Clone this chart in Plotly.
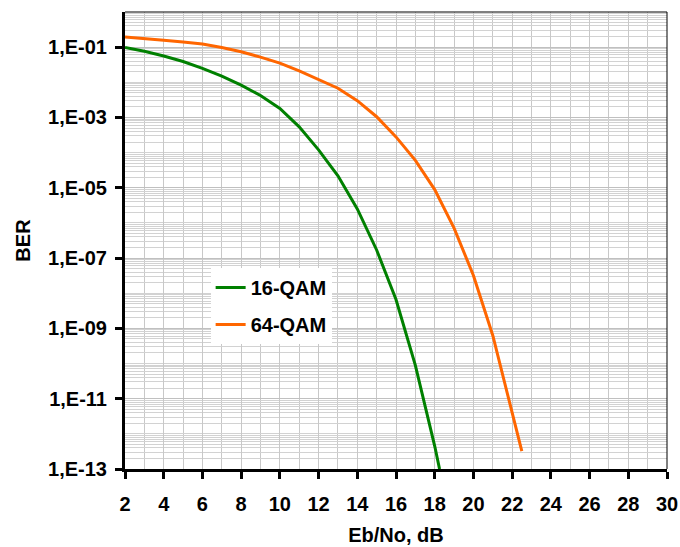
import plotly.graph_objects as go

# Data
ebno_16 = [2, 3, 4, 5, 6, 7, 8, 9, 10, 11, 12, 13, 14, 15, 16, 17, 18, 18.25]
ber_16 = [9.8e-2, 7.6e-2, 5.6e-2, 3.9e-2, 2.5e-2, 1.5e-2, 8.3e-3, 4.2e-3, 1.8e-3,
          5.4e-4, 1.2e-4, 2.2e-5, 2.5e-6, 1.7e-7, 6.6e-9, 8.9e-11, 4.5e-13, 1.0e-13]

ebno_64 = [2, 3, 4, 5, 6, 7, 8, 9, 10, 11, 12, 13, 14, 15, 16, 17, 18, 19, 20, 21, 22, 22.5]
ber_64 = [1.95e-1, 1.78e-1, 1.58e-1, 1.41e-1, 1.23e-1, 9.8e-2, 7.4e-2, 5.2e-2, 3.5e-2,
          2.1e-2, 1.2e-2, 6.8e-3, 3.0e-3, 1.05e-3, 2.8e-4, 6.0e-5, 8.9e-6, 7.1e-7,
          3.2e-8, 6.3e-10, 4.0e-12, 3.2e-13]

series_names = ["16-QAM", "64-QAM"]
series_colors = ["#008000", "#ff6600"]

y_tick_exps = [-1, -3, -5, -7, -9, -11, -13]
y_tick_text = ["1,E-%02d" % (-e) for e in y_tick_exps]
x_tick_vals = list(range(2, 31, 2))

FONT = "Liberation Sans, Arial, sans-serif"
FS = 20

fig = go.Figure()
for i, (xs, ys) in enumerate([(ebno_16, ber_16), (ebno_64, ber_64)]):
    fig.add_trace(go.Scatter(
        x=xs, y=ys, mode="lines", name=series_names[i],
        legendgroup=series_names[i],
        line=dict(color=series_colors[i], width=3),
    ))

minor_y = [k * 10.0 ** n for n in range(-13, 1) for k in range(1, 10)]
minor_y = [v for v in minor_y if v <= 1.0]

fig.update_layout(
    width=680, height=547,
    margin=dict(l=125, r=13, t=12, b=78),
    paper_bgcolor="white", plot_bgcolor="white",
    font=dict(family=FONT, size=FS, color="black"),
    showlegend=True,
    legend=dict(
        x=0.158, y=0.44, xanchor="left", yanchor="top",
        bgcolor="white", borderwidth=0,
        font=dict(family=FONT, size=FS, color="black", weight="bold"),
        tracegroupgap=8,
    ),
    xaxis=dict(
        range=[2, 30], tickvals=x_tick_vals, automargin=False,
        showgrid=True, gridcolor="#c8c8c8", gridwidth=1,
        minor=dict(dtick=1, showgrid=True, gridcolor="#c8c8c8", gridwidth=1, ticks=""),
        showline=True, linecolor="black", linewidth=3,
        ticks="outside", ticklen=7, tickwidth=3, tickcolor="black",
        ticklabelstandoff=8,
        tickfont=dict(family=FONT, size=FS, weight="bold"),
        zeroline=False,
        title=dict(text="<b>Eb/No, dB</b>", font=dict(family=FONT, size=FS), standoff=14),
    ),
    yaxis=dict(
        type="log", range=[-13, 0], automargin=False,
        tickvals=[10.0 ** e for e in y_tick_exps], ticktext=y_tick_text,
        showgrid=True, gridcolor="#c0c0c0", gridwidth=1,
        minor=dict(tickvals=minor_y, showgrid=True, gridcolor="#d2d2d2", gridwidth=1, ticks=""),
        showline=True, linecolor="black", linewidth=3,
        ticks="outside", ticklen=7, tickwidth=3, tickcolor="black",
        ticklabelstandoff=4,
        tickfont=dict(family=FONT, size=FS, weight="bold"),
        zeroline=False,
        title=dict(text="<b>BER</b>", font=dict(family=FONT, size=FS), standoff=13),
    ),
)

# thin frame on top and right
fig.add_shape(type="line", xref="paper", yref="paper", x0=0, x1=1, y0=1, y1=1,
              line=dict(color="black", width=1))
fig.add_shape(type="line", xref="paper", yref="paper", x0=1, x1=1, y0=0, y1=1,
              line=dict(color="black", width=1))

fig.write_html("out.html")
